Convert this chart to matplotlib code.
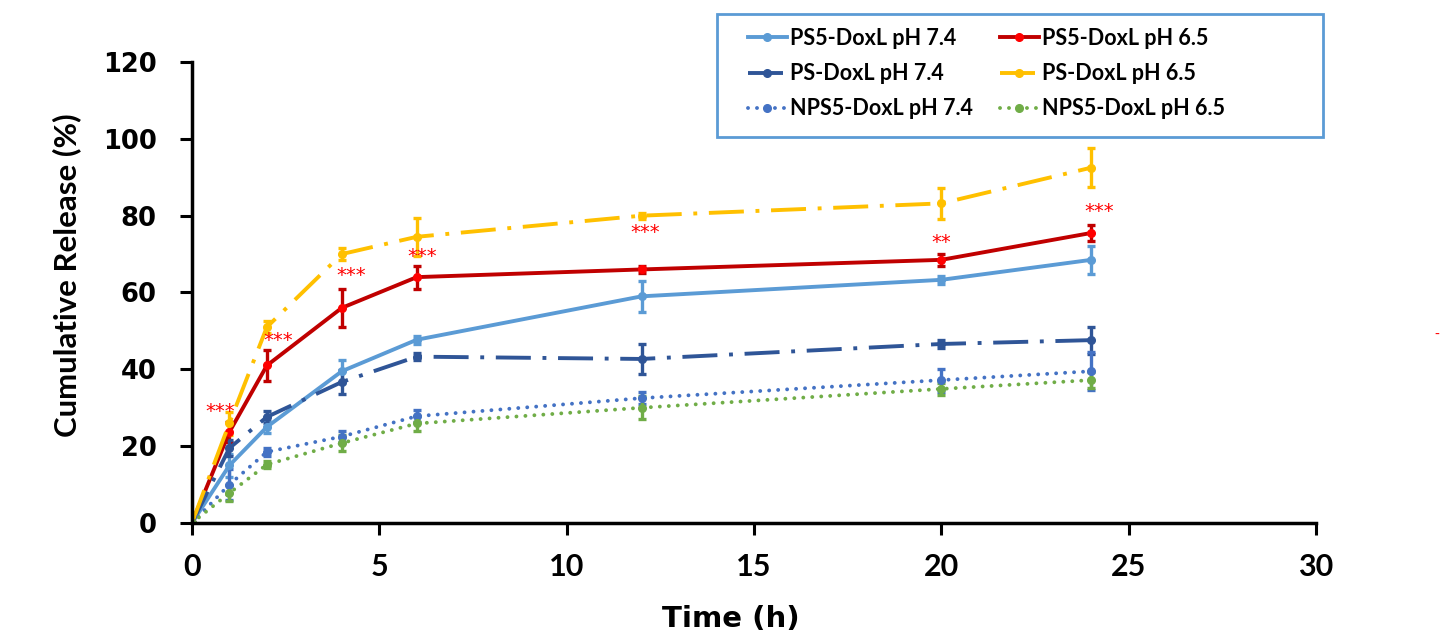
import numpy as np
import matplotlib.pyplot as plt
from matplotlib.patches import Rectangle

# data
time_h = [0, 1, 2, 4, 6, 12, 20, 24]

ps5_74 = [0, 15, 25, 39.5, 47.7, 59, 63.3, 68.5]
ps5_74_err = [0, 3, 1.5, 3, 1, 4, 1, 3.6]
ps5_65 = [0, 23.7, 41, 56, 64, 66, 68.5, 75.5]
ps5_65_err = [0, 2.5, 4, 5, 3, 1, 1.5, 2]
ps_74 = [0, 19.5, 27.6, 36.7, 43.3, 42.7, 46.6, 47.6]
ps_74_err = [0, 2, 1.5, 3, 1, 4, 1, 3.5]
ps_65 = [0, 26, 51, 70, 74.5, 80, 83.2, 92.5]
ps_65_err = [0, 3, 1.5, 1.5, 5, 0.8, 4, 5]
nps5_74 = [0, 10, 18.5, 22.5, 27.8, 32.5, 37.2, 39.5]
nps5_74_err = [0, 4, 1, 1.5, 1.5, 1.5, 3, 5]
nps5_65 = [0, 7.8, 15.2, 20.8, 25.9, 30, 34.9, 37.2]
nps5_65_err = [0, 2, 1, 2, 2, 3, 1.5, 2]

# significance marks
sig_x = [0.75, 2.3, 4.25, 6.15, 12.1, 20, 24.2]
sig_y = [29, 47.5, 64.5, 69.5, 75.5, 73, 81]
sig_txt = ["***", "***", "***", "***", "***", "**", "***"]

fig = plt.figure(figsize=(14.41, 6.34), dpi=100)
ax = fig.add_axes([0.1332, 0.1751, 0.7801, 0.7271])

dashdot = (0, (9, 3, 1, 3))
dotted = (0, (0.01, 2.3))

series = [
    (ps5_74, ps5_74_err, "PS5-DoxL pH 7.4", "#5B9BD5", "#5B9BD5", "-"),
    (ps5_65, ps5_65_err, "PS5-DoxL pH 6.5", "#C00000", "#FF0000", "-"),
    (ps_74, ps_74_err, "PS-DoxL pH 7.4", "#2F5597", "#2F5597", dashdot),
    (ps_65, ps_65_err, "PS-DoxL pH 6.5", "#FFC000", "#FFC000", dashdot),
    (nps5_74, nps5_74_err, "NPS5-DoxL pH 7.4", "#4472C4", "#4472C4", dotted),
    (nps5_65, nps5_65_err, "NPS5-DoxL pH 6.5", "#70AD47", "#70AD47", dotted),
]

handles = []
for vals, err, lab, col, mcol, ls in series:
    eb = ax.errorbar(time_h, vals, yerr=err, color=col, ecolor=col,
                     linestyle=ls, linewidth=2.8, marker="o", markersize=5.5,
                     markerfacecolor=mcol, markeredgecolor=mcol,
                     elinewidth=2.4, capsize=3, capthick=2.4, label=lab)
    if ls == dotted:
        eb.lines[0].set_dash_capstyle("round")
    handles.append(eb.lines[0])

for x, y, s in zip(sig_x, sig_y, sig_txt):
    ax.text(x, y, s, color="#FF0000", fontsize=14, ha="center", va="center")

ax.set_xlim(0, 30)
ax.set_ylim(0, 120)
ax.set_xticks(range(0, 31, 5))
ax.set_yticks(range(0, 121, 20))
for side in ["top", "right"]:
    ax.spines[side].set_visible(False)
for side in ["left", "bottom"]:
    ax.spines[side].set_linewidth(2.5)
ax.tick_params(axis="both", direction="out", length=8.5, width=2.2)
ax.tick_params(axis="x", pad=13)
ax.tick_params(axis="y", pad=17)
for t in ax.get_xticklabels():
    t.set_fontweight("bold")
    t.set_family("Lato")
    t.set_fontsize(22)
for t in ax.get_yticklabels():
    t.set_fontweight("bold")
    t.set_family("DejaVu Sans")
    t.set_fontsize(18.5)

fig.text(731 / 1441, 1 - 619 / 634, "Time (h)", fontsize=21, fontweight="bold",
         family="DejaVu Sans", ha="center", va="center")
fig.text(67 / 1441, 1 - 275 / 634, "Cumulative Release (%)", fontsize=22.4,
         fontweight="bold", family="Lato", rotation=90, ha="center", va="center")

# legend box drawn on its own, entries placed inside
fig.patches.append(Rectangle((717 / 1441, 1 - 137 / 634), 606 / 1441, 123 / 634,
                             transform=fig.transFigure, fill=False,
                             edgecolor="#5B9BD5", linewidth=2, zorder=5))
order = [0, 2, 4, 1, 3, 5]
leg = fig.legend([handles[i] for i in order], [series[i][2] for i in order],
                 loc="upper left", bbox_to_anchor=(748 / 1441, 1 - 28 / 634), ncol=2,
                 frameon=False, numpoints=1, handlelength=1.8, handletextpad=0.15,
                 columnspacing=1.25, labelspacing=0.66, borderpad=0, borderaxespad=0,
                 prop={"family": "Lato", "weight": "bold", "size": 15.5})

fig.text(0.997, 0.472, "-", color="#FF0000", fontsize=10, ha="center", va="center")

fig.savefig("out.png", dpi=100)
